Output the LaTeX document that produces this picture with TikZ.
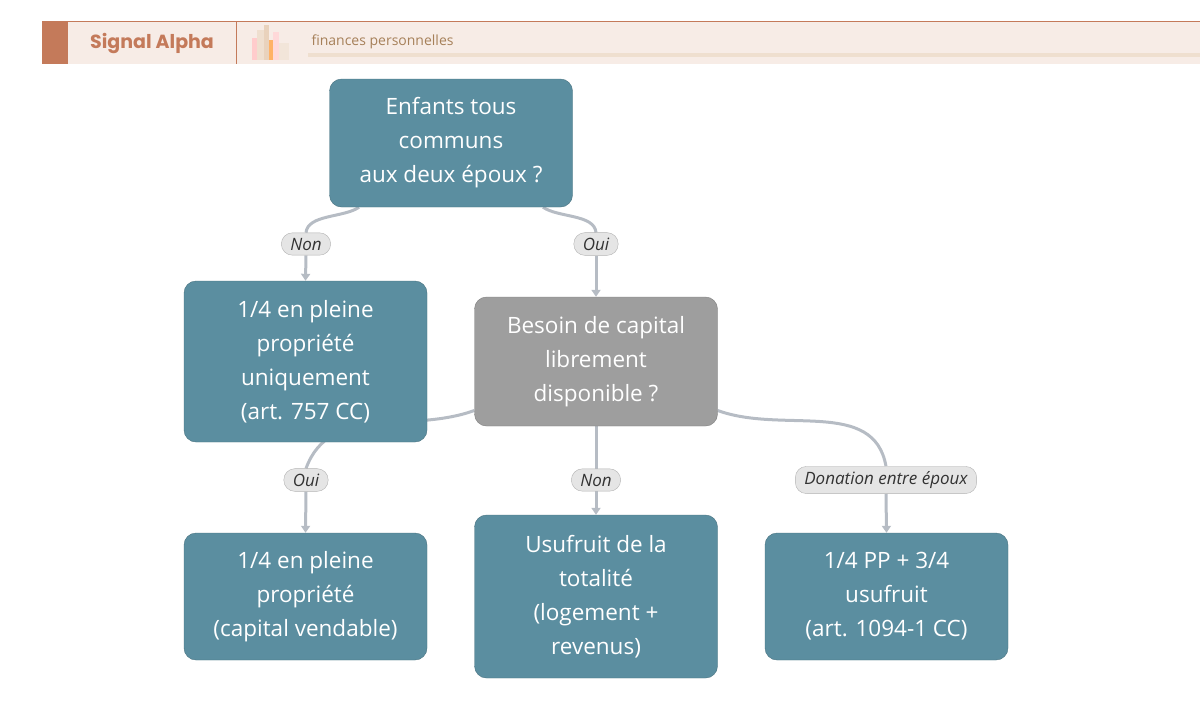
\documentclass[tikz,border=0pt]{standalone}
\usepackage{fontspec}
\setmainfont{Open Sans}
\newfontfamily\logofont{Poppins}
\usetikzlibrary{arrows.meta,backgrounds}
\definecolor{teal}{HTML}{5B8EA0}
\definecolor{grayb}{HTML}{9E9E9E}
\definecolor{edge}{HTML}{B6BCC4}
\definecolor{hdr}{HTML}{F7ECE6}
\definecolor{org}{HTML}{C47A5A}
\begin{document}
\begin{tikzpicture}[x=1pt,y=-1pt,
 box/.style={draw=#1!80!black,fill=#1,rounded corners=12,text=white,align=center,font=\fontsize{22.5}{34}\selectfont,minimum width=243,inner sep=0},
 lab/.style={draw=gray!60,fill=gray!20,rounded corners=11,font=\fontsize{17}{19}\selectfont\itshape,inner xsep=9,inner ysep=5,text=black!80},
 con/.style={draw=edge,line width=3},
 arr/.style={draw=edge,line width=3,-{Triangle[length=7,width=9]}}]
\useasboundingbox (0,0) rectangle (1200,721);
% header
\fill[hdr] (42,21) rectangle (1200,64);
\draw[org] (42,21.5) -- (1200,21.5);
\fill[org] (42,21) rectangle (68,64);
\draw[org] (236,21) -- (236,64);
\node[text=org,font=\logofont\fontsize{19}{20}\selectfont\bfseries] (logo) at (152,43) {Signal Alpha};
\fill[red!20] (252,38) rectangle (257,60);
\fill[brown!25] (257,30) rectangle (264,60);
\fill[brown!35] (264,25) rectangle (269,60);
\fill[orange!60] (269,40) rectangle (273,60);
\fill[red!15] (273,32) rectangle (279,60);
\fill[brown!20] (279,43) rectangle (289,60);
\node[text=brown!60!gray,font=\fontsize{14}{16}\selectfont,anchor=west] (sub) at (308,42) {finances personnelles};
\fill[brown!25] (308,53) rectangle (1200,57);
% nodes
\node[box=teal,minimum height=128] (top) at (451,143) {Enfants tous\\communs\\aux deux époux ?};
\node[box=teal,minimum height=161] (l) at (305.5,361.5) {1/4 en pleine\\propriété\\uniquement\\(art. 757 CC)};
\node[box=grayb,minimum height=129] (m) at (596,361.5) {Besoin de capital\\librement\\disponible ?};
\node[box=teal,minimum height=127] (bl) at (305.5,596.5) {1/4 en pleine\\propriété\\(capital vendable)};
\node[box=teal,minimum height=163] (bm) at (596,596.5) {Usufruit de la\\totalité\\(logement +\\revenus)};
\node[box=teal,minimum height=127] (br) at (886.5,596.5) {1/4 PP + 3/4\\usufruit\\(art. 1094-1 CC)};
% labels
\node[lab] (n1) at (306,244) {Non};
\node[lab] (o1) at (596,244) {Oui};
\node[lab] (o2) at (306,480) {Oui};
\node[lab] (n2) at (596,480) {Non};
\node[lab] (d) at (886,480) {Donation entre époux};
% edges
\begin{scope}[on background layer]
\draw[con] ([xshift=-92]top.south) to[out=215,in=85,looseness=0.8] (n1.north);
\draw[arr] (n1.south) -- (l.north);
\draw[con] ([xshift=92]top.south) to[out=-35,in=95,looseness=0.8] (o1.north);
\draw[arr] (o1.south) -- (m.north);
\draw[con] ([yshift=-49]m.west) to[out=200,in=70] (o2.north);
\draw[arr] (o2.south) -- (bl.north);
\draw[con] (m.south) -- (n2.north);
\draw[arr] (n2.south) -- (bm.north);
\draw[con] ([yshift=-49]m.east) to[out=-20,in=100] (d.north);
\draw[arr] (d.south) -- (br.north);
\end{scope}
\end{tikzpicture}
\end{document}
